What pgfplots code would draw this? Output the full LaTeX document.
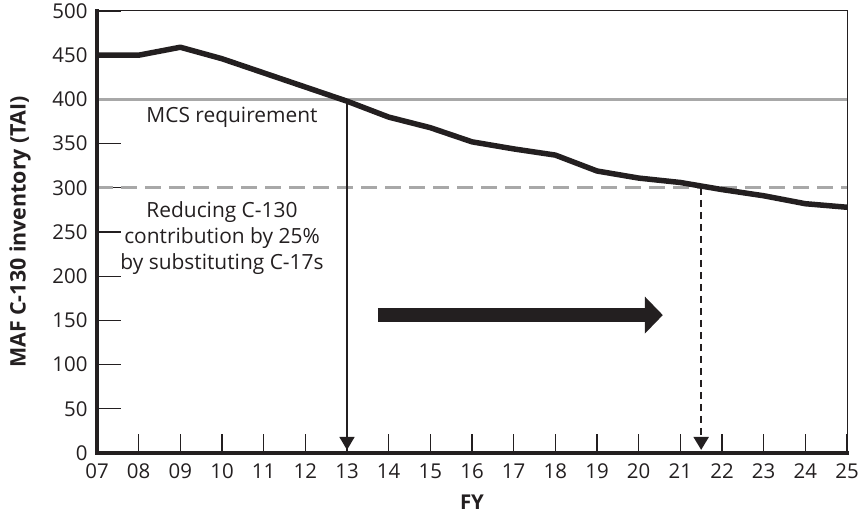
\documentclass[border=0pt]{standalone}
\usepackage{fontspec}
\setmainfont{Open Sans}
\usepackage{pgfplots}
\pgfplotsset{compat=1.18}
\usetikzlibrary{arrows.meta}
\definecolor{refgray}{RGB}{168,168,168}
\definecolor{refblack}{RGB}{35,31,32}
\begin{document}
\begin{tikzpicture}
\begin{axis}[
  scale only axis,
  width=750bp, height=442bp,
  xmin=7, xmax=25, ymin=0, ymax=500,
  xtick={7,...,25},
  xticklabels={07,08,09,10,11,12,13,14,15,16,17,18,19,20,21,22,23,24,25},
  ytick={0,50,...,500},
  /pgf/number format/assume math mode=true,
  tick align=inside,
  xtick pos=bottom, ytick pos=left,
  major tick length=19bp,
  y tick style={/pgfplots/major tick length=24bp},
  tick style={line width=1.3bp, color=refblack},
  axis line style={line width=1bp, color=refblack},
  tick label style={font=\fontsize{20.5}{24}\selectfont, text=refblack},
  xticklabel style={yshift=-7bp},
  yticklabel style={xshift=-6bp},
  xlabel={\textbf{FY}},
  ylabel={\textbf{MAF C-130 inventory (TAI)}},
  xlabel style={font=\fontsize{20.5}{22}\selectfont, text=refblack, at={(axis description cs:0.5,0)}, anchor=center, yshift=-49bp},
  ylabel style={font=\fontsize{21.5}{24}\selectfont, text=refblack, at={(axis description cs:0,0.5)}, anchor=center, yshift=77bp},
  clip=false,
]
\addplot[refgray, line width=3bp, forget plot] coordinates {(7,400) (25,400)};
\addplot[refgray, line width=3bp, dash pattern=on 16bp off 8bp, forget plot] coordinates {(7,300) (25,300)};
\addplot[refblack, line width=5.5bp, line join=round] coordinates {
(7,450) (8,450) (9,459) (10,446) (11,430) (12,414) (13,398) (14,380) (15,368)
(16,352) (17,344) (18,337) (19,319) (20,311) (21,306) (22,298) (23,291) (24,282) (25,278)};
\draw[refblack, line width=1.8bp, -{Triangle[width=15bp,length=13bp]}] (axis cs:13,398) -- (axis cs:13,3.5);
\draw[refblack, line width=2.2bp, dash pattern=on 7bp off 5bp, -{Triangle[width=15bp,length=13bp]}] (axis cs:21.5,300) -- (axis cs:21.5,3.5);
\draw[refblack, line width=14bp, -{Triangle[width=36bp,length=18bp]}] (axis cs:13.74,156) -- (axis cs:20.58,156);
\node[font=\fontsize{21}{26}\selectfont, text=refblack] at (axis cs:10.24,380) {MCS requirement};
\node[font=\fontsize{21}{26}\selectfont, text=refblack, align=center, inner sep=0pt] at (axis cs:10.0,243)
  {Reducing C-130\\contribution by 25\%\\by substituting C-17s};
\draw[refblack, line width=3.5bp, line cap=rect] (rel axis cs:0,1) -- (rel axis cs:0,0) -- (rel axis cs:1,0);
\end{axis}
\pgfresetboundingbox
\path ([shift={(-97bp,-64bp)}]current axis.south west) rectangle ([shift={(16bp,11bp)}]current axis.north east);
\end{tikzpicture}
\end{document}
